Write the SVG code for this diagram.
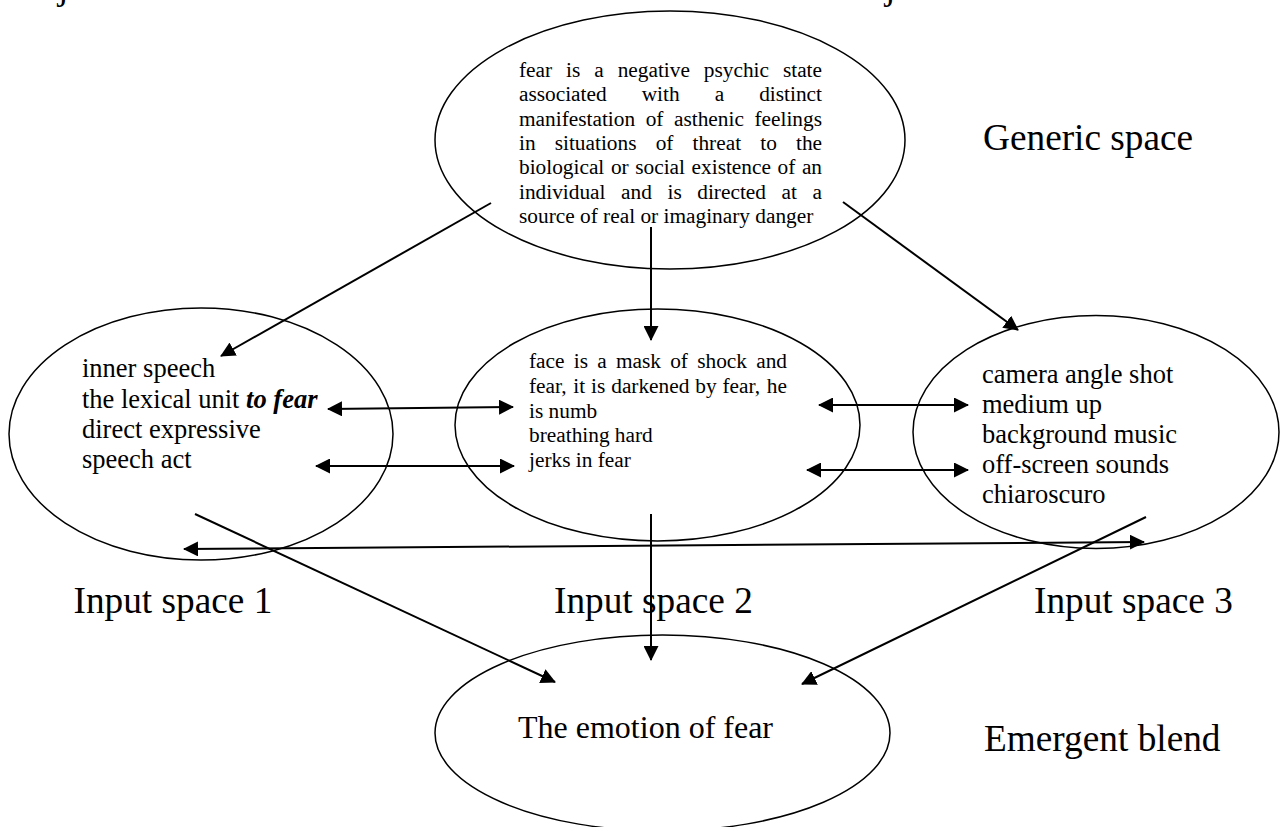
<svg xmlns="http://www.w3.org/2000/svg" width="1280" height="827" viewBox="0 0 1280 827">
<style>
.ell{fill:none;stroke:#000;stroke-width:1.5}
.t{font-family:"Liberation Serif","Times New Roman",serif;fill:#000}
.s21{font-size:21.33px}
.s26{font-size:26.5px}
.s32{font-size:32px}
.s37{font-size:37.3px}
.ln{fill:none;stroke:#000;stroke-width:2}
.a1{marker-end:url(#ah)}
.a2{marker-end:url(#ah);marker-start:url(#ah)}
</style>
<defs>
<marker id="ah" markerUnits="userSpaceOnUse" viewBox="0 0 15 15" refX="14" refY="7.5" markerWidth="15" markerHeight="15" orient="auto-start-reverse">
<path d="M0,0 L15,7.5 L0,15 z" fill="#000"/>
</marker>
</defs>
<rect width="1280" height="827" fill="#fff"/>
<g id="fragments">
<text class="t s37" x="58" y="-1">j</text>
<text class="t s37" x="885" y="-1">j</text>
</g>
<g id="generic">
<ellipse class="ell" cx="670" cy="140" rx="235" ry="129"/>
<text class="t s21" y="77"><tspan x="519">fear</tspan><tspan x="566.08">is</tspan><tspan x="594.24">a</tspan><tspan x="617.64">negative</tspan><tspan x="703.84">psychic</tspan><tspan x="782.93">state</tspan></text>
<text class="t s21" y="101.3"><tspan x="519">associated</tspan><tspan x="641.71">with</tspan><tspan x="714.68">a</tspan><tspan x="759.19">distinct</tspan></text>
<text class="t s21" y="125.6"><tspan x="519">manifestation</tspan><tspan x="645.68">of</tspan><tspan x="674.01">asthenic</tspan><tspan x="754.47">feelings</tspan></text>
<text class="t s21" y="149.9"><tspan x="519">in</tspan><tspan x="554.73">situations</tspan><tspan x="655.64">of</tspan><tspan x="692.54">threat</tspan><tspan x="760.24">to</tspan><tspan x="795.97">the</tspan></text>
<text class="t s21" y="174.2"><tspan x="519">biological</tspan><tspan x="610.9">or</tspan><tspan x="635.25">social</tspan><tspan x="691.59">existence</tspan><tspan x="777.54">of</tspan><tspan x="801.89">an</tspan></text>
<text class="t s21" y="198.5"><tspan x="519">individual</tspan><tspan x="621.09">and</tspan><tspan x="667.47">is</tspan><tspan x="697.28">directed</tspan><tspan x="781.56">at</tspan><tspan x="812.54">a</tspan></text>
<text class="t s21" x="519" y="222.8">source of real or imaginary danger</text>
<text class="t s37" x="983" y="150">Generic space</text>
</g>
<g id="input1">
<ellipse class="ell" cx="201" cy="434" rx="192" ry="126"/>
<text class="t s26" x="82" y="377">inner speech</text>
<text class="t s26" x="82" y="407.5">the lexical unit <tspan font-weight="bold" font-style="italic">to fear</tspan></text>
<text class="t s26" x="82" y="438">direct expressive</text>
<text class="t s26" x="82" y="468">speech act</text>
<text class="t s37" x="73.5" y="613">Input space 1</text>
</g>
<g id="input2">
<ellipse class="ell" cx="657.5" cy="425" rx="202.5" ry="116"/>
<text class="t s21" y="368"><tspan x="529">face</tspan><tspan x="573.75">is</tspan><tspan x="597.22">a</tspan><tspan x="615.93">mask</tspan><tspan x="670.2">of</tspan><tspan x="697.21">shock</tspan><tspan x="756.21">and</tspan></text>
<text class="t s21" y="392.8"><tspan x="529">fear,</tspan><tspan x="573.37">it</tspan><tspan x="591.11">is</tspan><tspan x="611.23">darkened</tspan><tspan x="695.28">by</tspan><tspan x="722.5">fear,</tspan><tspan x="766.86">he</tspan></text>
<text class="t s21" x="529" y="417.6">is numb</text>
<text class="t s21" x="529" y="442.4">breathing hard</text>
<text class="t s21" x="529" y="467.2">jerks in fear</text>
<text class="t s37" x="554" y="613">Input space 2</text>
</g>
<g id="input3">
<ellipse class="ell" cx="1096" cy="432" rx="183" ry="116.5"/>
<text class="t s26" x="982" y="383">camera angle shot</text>
<text class="t s26" x="982" y="413">medium up</text>
<text class="t s26" x="982" y="443">background music</text>
<text class="t s26" x="982" y="473">off-screen sounds</text>
<text class="t s26" x="982" y="503">chiaroscuro</text>
<text class="t s37" x="1034" y="613">Input space 3</text>
</g>
<g id="blend">
<ellipse class="ell" cx="662.5" cy="733" rx="227.5" ry="98"/>
<text class="t s32" x="518" y="738">The emotion of fear</text>
<text class="t s37" x="984" y="751">Emergent blend</text>
</g>
<g id="connectors">
<line class="ln a1" x1="491" y1="203" x2="221" y2="356"/>
<line class="ln a1" x1="651" y1="227" x2="651" y2="340"/>
<line class="ln a1" x1="843" y1="202" x2="1018" y2="330"/>
<line class="ln a2" x1="328" y1="409" x2="513" y2="407"/>
<line class="ln a2" x1="316" y1="466" x2="514" y2="466"/>
<line class="ln a2" x1="819" y1="405" x2="968" y2="405"/>
<line class="ln a2" x1="807" y1="470" x2="968" y2="470"/>
<line class="ln a2" x1="184" y1="549" x2="1144" y2="542"/>
<line class="ln a1" x1="195" y1="514" x2="555" y2="682"/>
<line class="ln a1" x1="651" y1="514" x2="651" y2="660"/>
<line class="ln a1" x1="1146" y1="517" x2="802" y2="684"/>
</g>
</svg>
